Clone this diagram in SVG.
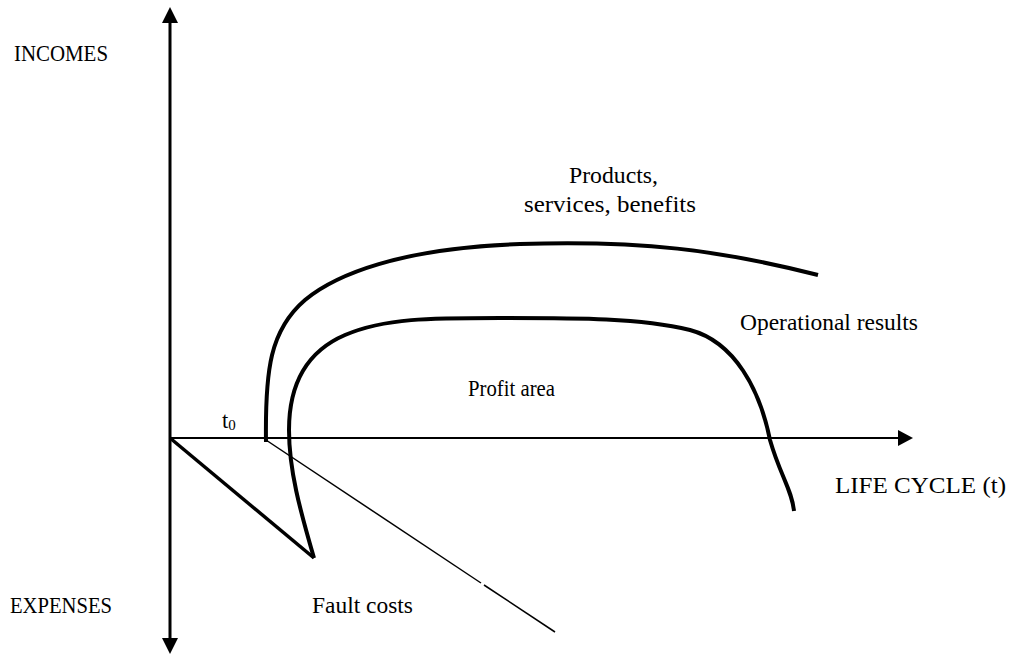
<svg xmlns="http://www.w3.org/2000/svg" width="1011" height="655" viewBox="0 0 1011 655">
<style>
text{font-family:"Liberation Serif","Times New Roman",serif;font-size:22.5px;fill:#000}
.ax{stroke:#000;fill:none}
.curve{stroke:#000;stroke-width:4;fill:none;stroke-linejoin:round}
.head{fill:#000}
</style>
<rect width="1011" height="655" fill="#fff"/>
<g id="connectors">
  <line class="ax" x1="170" y1="20" x2="170" y2="640" stroke-width="3"/>
  <polygon class="head" points="170,7 162,23 178,23"/>
  <polygon class="head" points="170,654 162,638 178,638"/>
  <line class="ax" x1="170" y1="438" x2="900" y2="438" stroke-width="2"/>
  <polygon class="head" points="913,438 898,430 898,446"/>
  <line class="ax" x1="170" y1="438" x2="314" y2="558" stroke-width="3.5"/>
  <line class="ax" x1="266" y1="440" x2="481" y2="583" stroke-width="1.5"/>
  <line class="ax" x1="484" y1="585" x2="555" y2="632" stroke-width="1.5"/>
  <path class="curve" d="M266,442 C265,370 270,330 305,300 C335,275 400,248 520,244 C640,240 720,250 818,275"/>
  <path class="curve" d="M314,558 C300,510 289,470 289,430 C289,380 310,350 345,335 C385,318 430,318 500,318 C580,318 640,318 690,330 C735,342 760,390 770,440 C780,475 792,490 794,511"/>
</g>
<g id="labels">
  <g id="incomes"><text x="14" y="61" textLength="94" lengthAdjust="spacingAndGlyphs">INCOMES</text></g>
  <g id="expenses"><text x="10" y="613" textLength="102" lengthAdjust="spacingAndGlyphs">EXPENSES</text></g>
  <g id="fault"><text x="312" y="613" textLength="101" lengthAdjust="spacingAndGlyphs">Fault costs</text></g>
  <g id="lifecycle"><text x="835" y="493" textLength="171" lengthAdjust="spacingAndGlyphs">LIFE CYCLE (t)</text></g>
  <g id="profit"><text x="468" y="396" textLength="87" lengthAdjust="spacingAndGlyphs">Profit area</text></g>
  <g id="operational"><text x="740" y="330" textLength="178" lengthAdjust="spacingAndGlyphs">Operational results</text></g>
  <g id="products">
    <text x="569" y="183" textLength="89" lengthAdjust="spacingAndGlyphs">Products,</text>
    <text x="524" y="212" textLength="172" lengthAdjust="spacingAndGlyphs">services, benefits</text>
  </g>
  <g id="t0"><text x="222" y="428">t<tspan font-size="15" dy="2">0</tspan></text></g>
</g>
</svg>
